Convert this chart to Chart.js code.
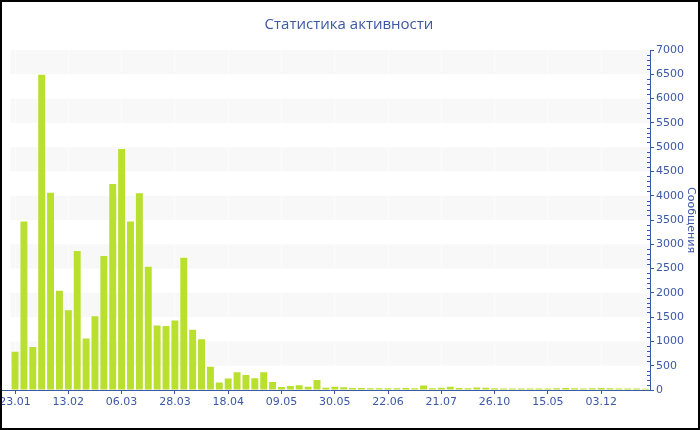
<!DOCTYPE html>
<html>
<head>
<meta charset="utf-8">
<script src="https://cdn.jsdelivr.net/npm/chart.js@4/dist/chart.umd.min.js"></script>
<style>
  html, body { margin: 0; padding: 0; background: #fff; }
  #wrap { position: relative; width: 700px; height: 430px; overflow: hidden; background: #fff; }
  #inner { position: absolute; left: -12px; top: 0; width: 712px; height: 430px; }
  #frame { position: absolute; left: 0; top: 0; right: 0; bottom: 0; border: 2px solid #000; pointer-events: none; }
</style>
</head>
<body>
<div id="wrap">
  <div id="inner"><canvas id="chart"></canvas></div>
  <div id="frame"></div>
</div>
<script>
// x labels: one every 6 bars
const tickLabels = ['23.01', '13.02', '06.03', '28.03', '18.04', '09.05', '30.05', '22.06', '21.07', '26.10', '15.05', '03.12'];
const labelEvery = 6;

// messages per bar
const messages = [
  790, 3470, 885, 6490, 4060, 2045, 1640, 2860, 1060, 1520, 2760, 4240,
  4960, 3470, 4050, 2540, 1330, 1320, 1430, 2725, 1240, 1045, 480, 155,
  235, 365, 310, 240, 365, 165, 62, 82, 100, 69, 206, 48,
  69, 55, 42, 40, 38, 38, 36, 38, 40, 36, 95, 34,
  48, 69, 42, 34, 52, 46, 34, 32, 30, 30, 30, 32,
  30, 36, 42, 34, 32, 36, 42, 34, 32, 30, 30, 28
];

const categories = messages.map((_, i) => i % labelEvery === 0 ? tickLabels[i / labelEvery] : '');

const BLUE = '#3c58a5';

// grey bands every other 500 + minor y ticks + axis line to the left edge
const decor = {
  id: 'decor',
  beforeDraw(chart) {
    const { ctx, chartArea: a, scales: { y } } = chart;
    ctx.save();
    ctx.fillStyle = '#f8f8f8';
    for (let v = 500; v < 7000; v += 1000) {
      const top = y.getPixelForValue(v + 500), bot = y.getPixelForValue(v);
      ctx.fillRect(a.left, top, a.right - a.left, bot - top);
    }
    ctx.restore();
  },
  afterDraw(chart) {
    const { ctx, chartArea: a, scales: { y } } = chart;
    ctx.save();
    ctx.strokeStyle = BLUE;
    ctx.lineWidth = 1;
    ctx.beginPath();
    for (let v = 100; v < 7000; v += 100) {
      if (v % 500 === 0) continue;
      const py = Math.round(y.getPixelForValue(v)) + 0.5;
      ctx.moveTo(a.right - 3, py);
      ctx.lineTo(a.right, py);
    }
    ctx.moveTo(0, Math.round(a.bottom) + 0.5);
    ctx.lineTo(a.left, Math.round(a.bottom) + 0.5);
    ctx.stroke();
    ctx.restore();
  }
};

new Chart(document.getElementById('chart'), {
  type: 'bar',
  data: {
    labels: categories,
    datasets: [{
      label: 'Сообщения',
      data: messages,
      backgroundColor: '#b9df2f',
      borderWidth: 0,
      barPercentage: 0.78,
      categoryPercentage: 1
    }]
  },
  options: {
    responsive: true,
    maintainAspectRatio: false,
    animation: false,
    layout: { padding: { left: 22.6, right: 12.6, top: 0, bottom: 0 } },
    plugins: {
      legend: { display: false },
      tooltip: { enabled: false },
      title: {
        display: true,
        text: 'Статистика активности',
        color: BLUE,
        font: { family: 'Open Sans', size: 15, weight: 'normal' },
        padding: { top: 16, bottom: 16 }
      }
    },
    scales: {
      x: {
        offset: true,
        grid: {
          offset: false,
          drawOnChartArea: true,
          color: c => c.index % labelEvery === 0 ? 'rgba(255,255,255,0.6)' : 'transparent',
          tickColor: c => c.index % labelEvery === 0 ? BLUE : 'transparent',
          tickLength: 4
        },
        border: { color: BLUE },
        ticks: {
          autoSkip: false,
          maxRotation: 0,
          padding: 2,
          color: BLUE,
          font: { family: 'DejaVu Sans', size: 11 }
        },
        afterFit: s => { s.height = 40; }
      },
      y: {
        position: 'right',
        min: 0,
        max: 7000,
        grid: { drawOnChartArea: false, tickLength: 4, tickColor: BLUE },
        border: { color: BLUE },
        ticks: {
          stepSize: 500,
          autoSkip: false,
          padding: 2,
          color: BLUE,
          font: { family: 'DejaVu Sans', size: 11 },
          callback: v => String(v)
        },
        title: {
          display: true,
          text: 'Сообщения',
          color: BLUE,
          font: { family: 'DejaVu Sans', size: 11 },
          padding: { top: -9.8, bottom: 0 }
        },
        afterFit: s => { s.width = 37.4; }
      }
    }
  },
  plugins: [decor]
});
</script>
</body>
</html>
